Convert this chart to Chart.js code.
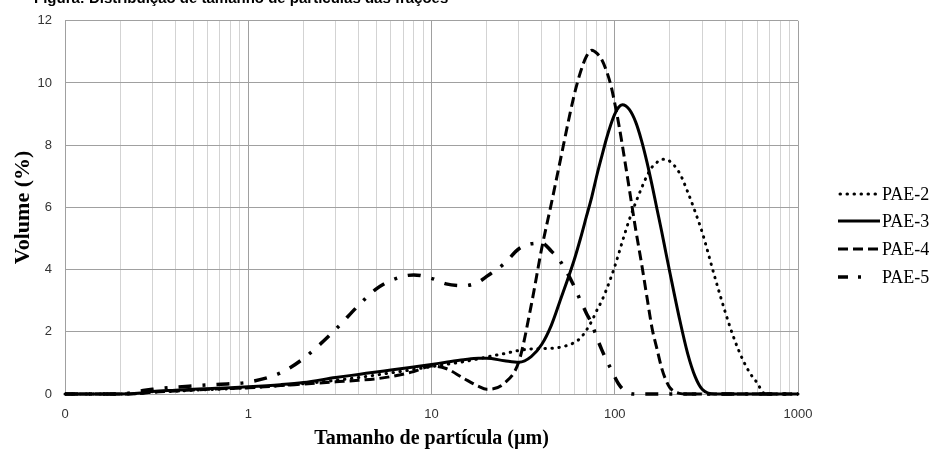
<!DOCTYPE html>
<html><head><meta charset="utf-8">
<script src="https://cdn.jsdelivr.net/npm/chart.js@4"></script>
<style>
html,body{margin:0;padding:0;background:#fff;}
#wrap{position:relative;width:934px;height:450px;overflow:hidden;background:#fff;}
#title{position:absolute;left:34px;top:-11px;font:bold 15px "Liberation Sans",Arial,sans-serif;white-space:nowrap;color:#000;line-height:17px;}
canvas{position:absolute;left:0;top:0;}
</style></head><body>
<div id="wrap"><canvas id="c" width="934" height="450"></canvas><div id="title">Figura: Distribuição de tamanho de partículas das frações</div></div>
<script>
// Particle size classes (µm)
const sizes = [0.1, 0.2, 0.26, 0.3, 0.4, 0.5, 0.6, 0.8, 1, 1.5, 2, 3, 4, 5, 6, 8, 10, 12, 15, 18, 20, 25, 30, 35, 40, 45, 50, 60, 65, 70, 75, 80, 85, 90, 95, 100, 105, 110, 120, 130, 140, 150, 160, 170, 180, 190, 200, 225, 250, 275, 300, 350, 400, 450, 500, 550, 600, 650, 700, 800, 1000];
// Volume (%) per series
const pae2 = [0, 0, 0.02, 0.06, 0.09, 0.12, 0.14, 0.17, 0.2, 0.27, 0.33, 0.44, 0.53, 0.61, 0.68, 0.79, 0.88, 0.95, 1.04, 1.13, 1.19, 1.3, 1.4, 1.45, 1.46, 1.47, 1.5, 1.65, 1.8, 2.05, 2.35, 2.7, 3.0, 3.35, 3.72, 4.1, 4.5, 4.9, 5.6, 6.15, 6.62, 7.02, 7.3, 7.45, 7.55, 7.55, 7.48, 7.12, 6.5, 5.85, 5.2, 3.8, 2.65, 1.75, 1.1, 0.65, 0.35, 0.03, 0, 0, 0];
const pae3 = [0, 0, 0.03, 0.08, 0.12, 0.15, 0.17, 0.2, 0.23, 0.3, 0.37, 0.53, 0.63, 0.71, 0.77, 0.87, 0.95, 1.02, 1.1, 1.15, 1.15, 1.07, 1.02, 1.2, 1.6, 2.2, 2.95, 4.3, 5.0, 5.7, 6.35, 7.05, 7.65, 8.2, 8.65, 9.0, 9.22, 9.3, 9.15, 8.75, 8.15, 7.45, 6.7, 5.95, 5.25, 4.55, 3.9, 2.45, 1.3, 0.55, 0.15, 0, 0, 0, 0, 0, 0, 0, 0, 0, 0];
const pae4 = [0, 0, 0.02, 0.06, 0.1, 0.13, 0.15, 0.18, 0.2, 0.27, 0.32, 0.39, 0.44, 0.49, 0.56, 0.72, 0.9, 0.82, 0.5, 0.25, 0.15, 0.35, 1.05, 2.85, 4.7, 6.1, 7.4, 9.6, 10.35, 10.85, 11.05, 10.95, 10.75, 10.4, 9.95, 9.35, 8.7, 8.0, 6.6, 5.3, 4.2, 3.1, 2.1, 1.45, 0.85, 0.45, 0.2, 0.02, 0, 0, 0, 0, 0, 0, 0, 0, 0, 0, 0, 0, 0];
const pae5 = [0, 0, 0.1, 0.15, 0.22, 0.26, 0.29, 0.33, 0.38, 0.68, 1.14, 2.08, 2.85, 3.38, 3.65, 3.83, 3.72, 3.54, 3.48, 3.6, 3.78, 4.2, 4.67, 4.83, 4.85, 4.6, 4.3, 3.47, 3.0, 2.6, 2.25, 1.8, 1.42, 1.1, 0.82, 0.55, 0.32, 0.17, 0.03, 0, 0, 0, 0, 0, 0, 0, 0, 0, 0, 0, 0, 0, 0, 0, 0, 0, 0, 0, 0, 0, 0];
const seriesNames = ['PAE-2', 'PAE-3', 'PAE-4', 'PAE-5'];
// Axis ticks
const xTickValues = [0.1, 1, 10, 100, 1000];
const xTickLabels = ['0', '1', '10', '100', '1000'];
const yTicks = [0, 2, 4, 6, 8, 10, 12];

const styles = [
  {dash: [0.5, 6.5], cap: 'round', width: 3},
  {dash: [], cap: 'butt', width: 3},
  {dash: [10, 5], cap: 'butt', width: 3},
  {dash: [13, 11, 3, 11], cap: 'butt', width: 3.5}
];
const values = [pae2, pae3, pae4, pae5];

const gridVals = [];
[0.1, 1, 10, 100].forEach(d => { for (let k = 1; k <= 9; k++) gridVals.push(+(k * d).toPrecision(6)); });
gridVals.push(1000);
const isMajor = v => xTickValues.some(t => Math.abs(t - v) / t < 1e-6);

const datasets = values.map((vals, i) => ({
  label: seriesNames[i],
  data: sizes.map((s, j) => ({x: s, y: vals[j]})),
  borderColor: '#000',
  backgroundColor: '#000',
  borderWidth: styles[i].width,
  borderDash: styles[i].dash,
  borderCapStyle: styles[i].cap,
  pointRadius: 0,
  fill: false,
  cubicInterpolationMode: 'monotone',
  clip: false
}));

const legendPlugin = {
  id: 'customLegend',
  afterDraw(chart) {
    const ctx = chart.ctx;
    const ys = [194, 221, 249, 277];
    ctx.save();
    seriesNames.forEach((name, i) => {
      const y = ys[i];
      ctx.beginPath();
      ctx.strokeStyle = '#000';
      ctx.lineWidth = styles[i].width;
      ctx.lineCap = styles[i].cap;
      ctx.setLineDash(i === 3 ? [10, 10, 3, 100] : styles[i].dash);
      ctx.moveTo(i === 0 ? 840 : 838, y);
      ctx.lineTo(880, y);
      ctx.stroke();
      ctx.setLineDash([]);
      ctx.fillStyle = '#000';
      ctx.font = '18px "Liberation Serif", "Times New Roman", serif';
      ctx.textBaseline = 'middle';
      ctx.textAlign = 'left';
      ctx.fillText(name, 882, y + 1);
    });
    ctx.restore();
  }
};

new Chart(document.getElementById('c'), {
  type: 'line',
  data: {datasets},
  options: {
    responsive: false,
    animation: false,
    layout: {padding: {left: 0, right: 136, top: 17, bottom: 0}},
    plugins: {legend: {display: false}, tooltip: {enabled: false}, title: {display: false}},
    scales: {
      x: {
        type: 'logarithmic',
        min: 0.1, max: 1000,
        afterBuildTicks(scale) { scale.ticks = gridVals.map(v => ({value: v, major: isMajor(v)})); },
        afterFit(scale) { scale.height = 56; },
        ticks: {
          autoSkip: false, maxRotation: 0, minRotation: 0, padding: 13,
          color: '#333', font: {family: '"Liberation Sans", Arial, sans-serif', size: 13},
          callback(v) {
            const idx = xTickValues.findIndex(t => Math.abs(t - v) / t < 1e-6);
            return idx >= 0 ? xTickLabels[idx] : '';
          }
        },
        grid: {
          drawTicks: false,
          color(ctx) { return ctx.tick && isMajor(ctx.tick.value) ? '#a0a0a0' : '#d3d3d3'; },
          lineWidth: 1
        },
        border: {display: false},
        title: {
          display: true, text: 'Tamanho de partícula (µm)', color: '#000',
          font: {family: '"Liberation Serif", "Times New Roman", serif', size: 20, weight: 'bold', lineHeight: 1},
          padding: {top: 0, bottom: 1}
        }
      },
      y: {
        min: 0, max: 12,
        afterBuildTicks(scale) { scale.ticks = yTicks.map(v => ({value: v})); },
        afterFit(scale) { scale.width = 65; },
        ticks: {
          padding: 13, color: '#333', font: {family: '"Liberation Sans", Arial, sans-serif', size: 13}
        },
        grid: {drawTicks: false, color: '#a0a0a0', lineWidth: 1},
        border: {display: true, color: '#a0a0a0'},
        title: {
          display: true, text: 'Volume (%)', color: '#000',
          font: {family: '"Liberation Serif", "Times New Roman", serif', size: 22, weight: 'bold', lineHeight: 1},
          padding: {top: 12, bottom: 0}
        }
      }
    }
  },
  plugins: [legendPlugin]
});
</script>
</body></html>
